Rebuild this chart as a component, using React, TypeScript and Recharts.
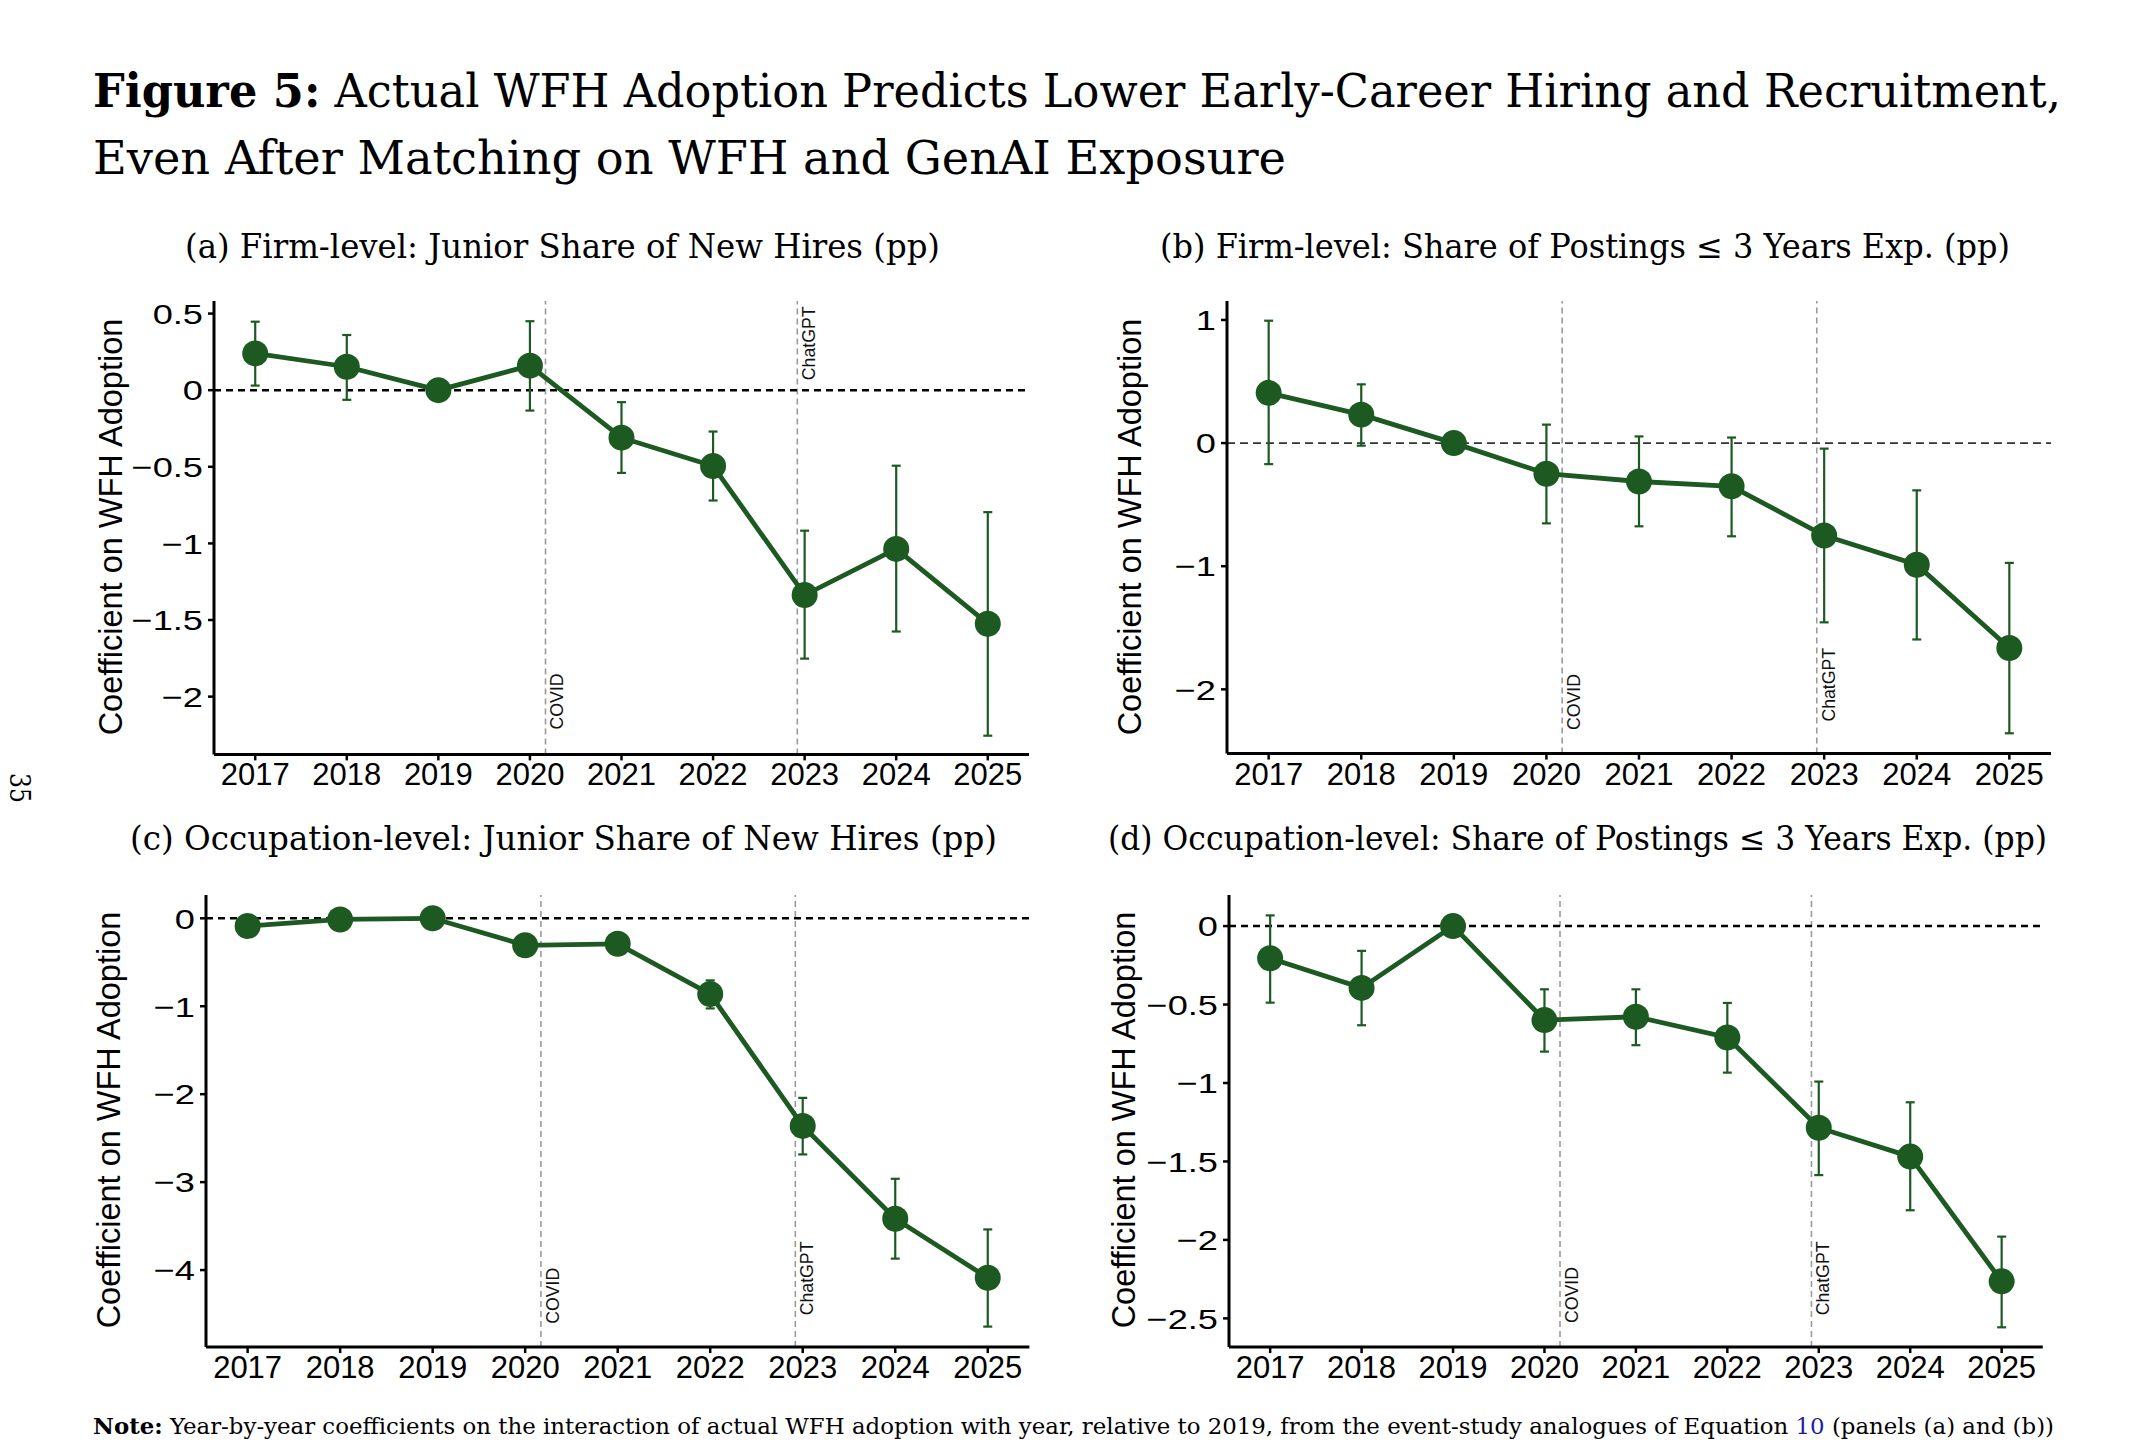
import React from 'react';
import { ComposedChart, Line, XAxis, YAxis, ErrorBar, ReferenceLine, ReferenceDot } from 'recharts';

// ---------- data ----------
const years = [2017, 2018, 2019, 2020, 2021, 2022, 2023, 2024, 2025];

// (a) Firm-level: Junior Share of New Hires
const coefA = [0.24, 0.153, 0, 0.16, -0.31, -0.495, -1.337, -1.036, -1.524];
const lowA = [0.03, -0.063, 0, -0.133, -0.54, -0.72, -1.752, -1.575, -2.255];
const highA = [0.447, 0.36, 0, 0.45, -0.078, -0.27, -0.917, -0.493, -0.796];

// (b) Firm-level: Share of Postings <= 3 Years Exp.
const coefB = [0.408, 0.231, 0, -0.249, -0.312, -0.351, -0.751, -0.988, -1.664];
const lowB = [-0.171, -0.021, 0, -0.652, -0.676, -0.757, -1.456, -1.595, -2.357];
const highB = [0.994, 0.477, 0, 0.15, 0.054, 0.045, -0.045, -0.384, -0.973];

// (c) Occupation-level: Junior Share of New Hires
const coefC = [-0.088, -0.013, 0, -0.307, -0.29, -0.861, -2.361, -3.416, -4.088];
const lowC = [-0.16, -0.08, 0, -0.38, -0.36, -1.025, -2.685, -3.87, -4.643];
const highC = [-0.02, 0.05, 0, -0.24, -0.22, -0.706, -2.042, -2.962, -3.538];

// (d) Occupation-level: Share of Postings <= 3 Years Exp.
const coefD = [-0.205, -0.394, 0, -0.599, -0.578, -0.71, -1.285, -1.469, -2.264];
const lowD = [-0.488, -0.632, 0, -0.8, -0.759, -0.934, -1.587, -1.811, -2.557];
const highD = [0.068, -0.158, 0, -0.403, -0.403, -0.49, -0.991, -1.123, -1.979];

const ticksA = [0.5, 0, -0.5, -1, -1.5, -2];
const ticksB = [1, 0, -1, -2];
const ticksC = [0, -1, -2, -3, -4];
const ticksD = [0, -0.5, -1, -1.5, -2, -2.5];

const COVID_X = 2020.17;
const CHATGPT_X = 2022.92;
const eventLabels = ['COVID', 'ChatGPT'];

const titleBold = 'Figure 5:';
const titleLine1 = ' Actual WFH Adoption Predicts Lower Early-Career Hiring and Recruitment,';
const titleLine2 = 'Even After Matching on WFH and GenAI Exposure';
const subtitles = [
  '(a) Firm-level: Junior Share of New Hires (pp)',
  '(b) Firm-level: Share of Postings \u2264 3 Years Exp. (pp)',
  '(c) Occupation-level: Junior Share of New Hires (pp)',
  '(d) Occupation-level: Share of Postings \u2264 3 Years Exp. (pp)',
];
const yLabel = 'Coefficient on WFH Adoption';
const noteBold = 'Note:';
const noteText1 = ' Year-by-year coefficients on the interaction of actual WFH adoption with year, relative to 2019, from the event-study analogues of Equation ';
const noteRef = '10';
const noteText2 = ' (panels (a) and (b))';
const pageNumber = '35';

// ---------- styling ----------
const GREEN = '#1c5a22';
const SERIF = "'DejaVu Serif', serif";
const SANS = "'Liberation Sans', Arial, sans-serif";
const X_DOMAIN: [number, number] = [2016.55, 2025.45];
const ML = 150, MT = 20, MR = 20, MB = 70;

function build(coef: number[], low: number[], high: number[]) {
  return years.map((year, i) => ({
    year,
    coef: coef[i],
    err: [coef[i] - low[i], high[i] - coef[i]],
  }));
}

const fmt = (v: number) => (v < 0 ? '\u2212' + String(Math.abs(v)) : String(v));

const YTick = (props: any) => {
  const { x, y, payload } = props;
  return (
    <g transform={`translate(${x},${y})`}>
      <text x={0} y={0} dy="0.36em" textAnchor="end" fontSize={28.5} fontFamily={SANS} fill="#000" transform="scale(1.27,1)">
        {fmt(payload.value)}
      </text>
    </g>
  );
};

const VLabel = (props: any) => {
  const { viewBox, text } = props;
  if (!viewBox) return null;
  const x = viewBox.x + (viewBox.width || 0) / 2;
  const y = viewBox.y + (viewBox.height || 0) / 2;
  return (
    <text transform={`translate(${x + 18},${y}) rotate(-90)`} fontSize={17.7} fontFamily={SANS} fill="#111">
      {text}
    </text>
  );
};

type PanelProps = {
  plot: { left: number; top: number; right: number; bottom: number };
  data: any[];
  yDomain: [number, number];
  yTicks: number[];
  covidY: number;
  chatY: number;
  zeroStroke: string;
  zeroWidth: number;
  zeroDash: string;
};

function Panel(p: PanelProps) {
  const width = p.plot.right - p.plot.left + ML + MR;
  const height = p.plot.bottom - p.plot.top + MT + MB;
  return (
    <div style={{ position: 'absolute', left: p.plot.left - ML, top: p.plot.top - MT }}>
      <ComposedChart width={width} height={height} data={p.data} margin={{ top: MT, right: MR, left: 0, bottom: 0 }}>
        <XAxis
          type="number"
          dataKey="year"
          domain={X_DOMAIN}
          ticks={years}
          allowDataOverflow
          interval={0}
          height={MB}
          axisLine={{ stroke: '#000', strokeWidth: 3 }}
          tickLine={{ stroke: '#000', strokeWidth: 2.5 }}
          tickSize={6}
          tickMargin={3}
          tick={{ fontSize: 31, fill: '#000', fontFamily: SANS }}
          tickFormatter={(v: number) => String(v)}
        />
        <YAxis
          type="number"
          domain={p.yDomain}
          ticks={p.yTicks}
          allowDataOverflow
          interval={0}
          width={ML}
          axisLine={{ stroke: '#000', strokeWidth: 3 }}
          tickLine={{ stroke: '#000', strokeWidth: 2.5 }}
          tickSize={6}
          tickMargin={5}
          tick={<YTick />}
        />
        <ReferenceLine x={COVID_X} stroke="#9a9a9a" strokeWidth={1.6} strokeDasharray="6 4" />
        <ReferenceLine x={CHATGPT_X} stroke="#9a9a9a" strokeWidth={1.6} strokeDasharray="6 4" />
        <ReferenceLine y={0} stroke={p.zeroStroke} strokeWidth={p.zeroWidth} strokeDasharray={p.zeroDash} />
        <ReferenceDot x={COVID_X} y={p.covidY} r={0} fill="none" stroke="none" label={<VLabel text={eventLabels[0]} />} />
        <ReferenceDot x={CHATGPT_X} y={p.chatY} r={0} fill="none" stroke="none" label={<VLabel text={eventLabels[1]} />} />
        <Line
          type="linear"
          dataKey="coef"
          stroke={GREEN}
          strokeWidth={4.8}
          dot={{ r: 13, fill: GREEN, stroke: GREEN, strokeWidth: 0 }}
          activeDot={false}
          isAnimationActive={false}
        >
          <ErrorBar dataKey="err" direction="y" width={4.5} stroke={GREEN} strokeWidth={2.2} isAnimationActive={false} />
        </Line>
      </ComposedChart>
    </div>
  );
}

export default function App() {
  const dataA = build(coefA, lowA, highA);
  const dataB = build(coefB, lowB, highB);
  const dataC = build(coefC, lowC, highC);
  const dataD = build(coefD, lowD, highD);
  return (
    <div style={{ position: 'absolute', left: 0, top: 0, width: 2150, height: 1450, background: '#fff', overflow: 'hidden' }}>
      <svg width={2150} height={1450} style={{ position: 'absolute', left: 0, top: 0 }}>
        <text x={93} y={107} fontFamily={SERIF} fontSize={46} textLength={1968} lengthAdjust="spacingAndGlyphs" fill="#000">
          <tspan fontWeight="bold">{titleBold}</tspan>
          {titleLine1}
        </text>
        <text x={93} y={174} fontFamily={SERIF} fontSize={47} textLength={1193} lengthAdjust="spacingAndGlyphs" fill="#000">
          {titleLine2}
        </text>
        <text x={185} y={258} fontFamily={SERIF} fontSize={33} textLength={755} lengthAdjust="spacingAndGlyphs" fill="#000">{subtitles[0]}</text>
        <text x={1160} y={258} fontFamily={SERIF} fontSize={33} textLength={850} lengthAdjust="spacingAndGlyphs" fill="#000">{subtitles[1]}</text>
        <text x={130} y={850} fontFamily={SERIF} fontSize={33} textLength={867} lengthAdjust="spacingAndGlyphs" fill="#000">{subtitles[2]}</text>
        <text x={1108} y={850} fontFamily={SERIF} fontSize={33} textLength={939} lengthAdjust="spacingAndGlyphs" fill="#000">{subtitles[3]}</text>

        <text transform="translate(122,527) rotate(-90)" textAnchor="middle" fontFamily={SANS} fontSize={32.5} fill="#000">{yLabel}</text>
        <text transform="translate(1141,527) rotate(-90)" textAnchor="middle" fontFamily={SANS} fontSize={32.5} fill="#000">{yLabel}</text>
        <text transform="translate(120,1120) rotate(-90)" textAnchor="middle" fontFamily={SANS} fontSize={32.5} fill="#000">{yLabel}</text>
        <text transform="translate(1135,1120) rotate(-90)" textAnchor="middle" fontFamily={SANS} fontSize={32.5} fill="#000">{yLabel}</text>

        <text transform="translate(10,773) rotate(90)" fontFamily={SERIF} fontSize={28} textLength={30} lengthAdjust="spacingAndGlyphs" fill="#000">{pageNumber}</text>

        <text x={93} y={1434} fontFamily={SERIF} fontSize={22.5} textLength={1961} lengthAdjust="spacingAndGlyphs" fill="#000">
          <tspan fontWeight="bold">{noteBold}</tspan>
          {noteText1}
          <tspan fill="#1f1f9e">{noteRef}</tspan>
          {noteText2}
        </text>
      </svg>

      <Panel plot={{ left: 214, top: 300.6, right: 1029, bottom: 754 }} data={dataA} yDomain={[-2.377, 0.582]} yTicks={ticksA}
        covidY={-2.214} chatY={0.065} zeroStroke="#000" zeroWidth={2.6} zeroDash="7 5" />
      <Panel plot={{ left: 1226.7, top: 301.4, right: 2050.7, bottom: 754 }} data={dataB} yDomain={[-2.522, 1.154]} yTicks={ticksB}
        covidY={-2.331} chatY={-2.262} zeroStroke="#333" zeroWidth={1.6} zeroDash="8 5" />
      <Panel plot={{ left: 205.6, top: 894.7, right: 1029, bottom: 1346.8 }} data={dataC} yDomain={[-4.876, 0.265]} yTicks={ticksC}
        covidY={-4.611} chatY={-4.514} zeroStroke="#000" zeroWidth={2.6} zeroDash="7 5" />
      <Panel plot={{ left: 1229.2, top: 894.7, right: 2043, bottom: 1346.8 }} data={dataD} yDomain={[-2.683, 0.198]} yTicks={ticksD}
        covidY={-2.53} chatY={-2.48} zeroStroke="#000" zeroWidth={2.6} zeroDash="7 5" />
    </div>
  );
}
